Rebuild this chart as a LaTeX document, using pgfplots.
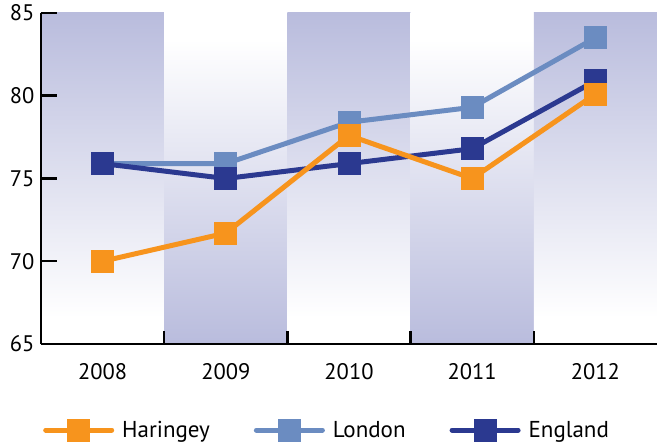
\documentclass[border=0pt]{standalone}
\usepackage{pgfplots}
\pgfplotsset{compat=1.18}
\usepackage{fontspec}
\setmainfont{PT Sans}
\usetikzlibrary{calc}
\definecolor{harc}{HTML}{F7941D}
\definecolor{lonc}{HTML}{6B8CC1}
\definecolor{engc}{HTML}{2B3990}
\definecolor{bandc}{HTML}{B9BCDD}
\pgfdeclareverticalshading{evenband}{100bp}{color(0bp)=(white); color(25bp)=(white); color(29bp)=(white); color(75bp)=(bandc); color(100bp)=(bandc)}
\pgfdeclareverticalshading{oddband}{100bp}{color(0bp)=(bandc); color(25bp)=(bandc); color(71bp)=(white); color(75bp)=(white); color(100bp)=(white)}
\begin{document}
\begin{tikzpicture}
\begin{axis}[name=ax, scale only axis, width=616pt, height=331pt,
  xmin=-0.5, xmax=4.5, ymin=65, ymax=85,
  axis x line*=bottom, axis y line*=left,
  axis line style={line width=2.5pt,-},
  axis on top,
  xtick={0,...,4}, xticklabels={2008,2009,2010,2011,2012},
  major x tick style={draw=none},
  minor xtick={0.5,1.5,2.5,3.5}, minor tick length=13pt,
  ytick={65,70,...,85}, major tick length=16pt,
  tick align=inside, tick style={line width=2.5pt, black},
  tick label style={font=\fontsize{22.5}{26}\selectfont},
  /pgf/number format/assume math mode=true,
  xticklabel style={yshift=-16pt},
  yticklabel style={xshift=-3pt},
  legend style={at={(rel axis cs:0,0)}, anchor=west, yshift=-86pt, xshift=2pt,
    draw=none, fill=none, inner sep=0pt, legend columns=3,
    font=\fontsize{23}{26}\selectfont,
    /tikz/every odd column/.append style={column sep=6pt},
    /tikz/every even column/.append style={column sep=42pt}},
  legend image code/.code={\draw[mark repeat=2, mark phase=2, #1] plot coordinates {(0pt,0pt) (33pt,0pt) (66pt,0pt)};},
  every axis plot/.append style={line width=5pt, mark=square*, mark size=9pt, mark options={solid}},
]
\fill[shading=evenband] (axis cs:-0.5,65) rectangle (axis cs:0.5,85);
\fill[shading=oddband] (axis cs:0.5,65) rectangle (axis cs:1.5,85);
\fill[shading=evenband] (axis cs:1.5,65) rectangle (axis cs:2.5,85);
\fill[shading=oddband] (axis cs:2.5,65) rectangle (axis cs:3.5,85);
\fill[shading=evenband] (axis cs:3.5,65) rectangle (axis cs:4.5,85);
\addlegendimage{harc, line width=5pt, line cap=round, mark=square*, mark size=9pt}
\addlegendentry{Haringey}
\addlegendimage{lonc, line width=5pt, line cap=round, mark=square*, mark size=9pt}
\addlegendentry{London}
\addlegendimage{engc, line width=5pt, line cap=round, mark=square*, mark size=9pt}
\addlegendentry{England}
\addplot[lonc, forget plot] coordinates {(0,75.9) (1,75.9) (2,78.4) (3,79.3) (4,83.5)};
\addplot[engc, forget plot] coordinates {(0,75.9) (1,75.0) (2,75.9) (3,76.8) (4,80.9)};
\addplot[harc, forget plot] coordinates {(0,70.0) (1,71.7) (2,77.6) (3,75.0) (4,80.1)};
\end{axis}
\pgfresetboundingbox
\path ($(ax.south west)+(-41pt,-99pt)$) rectangle ($(ax.north east)+(0pt,13pt)$);
\end{tikzpicture}
\end{document}
